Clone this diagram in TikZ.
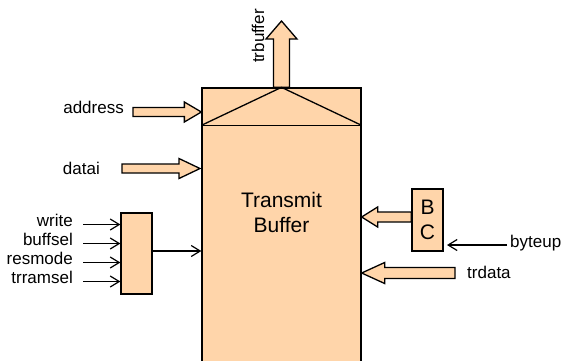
\documentclass[tikz,border=0pt]{standalone}
\usepackage{fontspec}
\setmainfont{Liberation Sans}
\usetikzlibrary{calc,arrows.meta}
\definecolor{peach}{RGB}{255,213,170}
\tikzset{
  unit/.style={draw, fill=peach, line width=1.3pt, inner sep=0pt},
  lbl/.style={font=\fontsize{17}{20}\selectfont, inner sep=0pt},
  big/.style={font=\fontsize{21}{25}\selectfont, align=center},
  wire/.style={-{Straight Barb[length=9pt,width=11pt]}, line width=1.2pt},
  % block arrow: shaft half width, head half width, head length
  fat/.style n args={3}{draw, fill=peach, line width=1.3pt, line join=miter,
    to path={($(\tikztostart)!#1!90:(\tikztotarget)$)
      -- ($(\tikztotarget)!#3!(\tikztostart)!#1!-90:(\tikztostart)$)
      -- ($(\tikztotarget)!#3!(\tikztostart)!#2!-90:(\tikztostart)$)
      -- (\tikztotarget)
      -- ($(\tikztotarget)!#3!(\tikztostart)!#2!90:(\tikztostart)$)
      -- ($(\tikztotarget)!#3!(\tikztostart)!#1!90:(\tikztostart)$)
      -- ($(\tikztostart)!#1!-90:(\tikztotarget)$) -- cycle}},
}
\begin{document}
\begin{tikzpicture}[x=1pt, y=-1pt]
  \useasboundingbox (0,0) rectangle (561,360);

  %% transmit buffer
  \node[unit, minimum width=159pt, minimum height=280pt] (buf) at (281.5,228) {};
  \node[big, inner sep=0pt] (bufname) at (281.5,212) {Transmit\\Buffer};

  \coordinate (trbuf) at (281.5,21);
  \draw[fat={8pt}{15.5pt}{18pt}] (buf.north) to (trbuf);
  \node[lbl, rotate=90, anchor=base west] (trbuflbl) at (264,63) {trbuffer};

  \coordinate (hl) at ($(buf.north west)+(0,38)$);
  \coordinate (hr) at ($(buf.north east)+(0,38)$);
  \draw[line width=1.3pt] (hl) -- (hr);
  \draw[line width=1.3pt] (hl) -- (buf.north) -- (hr);

  %% inputs on the left
  \node[lbl, anchor=base east] (addrlbl) at (124,113) {address};
  \coordinate (addrin) at (133,112);
  \coordinate (addrtip) at (buf.west |- addrin);
  \draw[fat={4.5pt}{10pt}{17pt}] (addrin) to (addrtip);

  \node[lbl, anchor=base east] (datalbl) at (100,174) {datai};
  \coordinate (datain) at (122,168.5);
  \coordinate (datatip) at (200,168.5);
  \draw[fat={4.5pt}{10pt}{21pt}] (datain) to (datatip);

  \node[unit, minimum width=31pt, minimum height=81pt] (ctl) at (136.5,253.5) {};
  \foreach \sig/\yy in {write/224.5, buffsel/243.5, resmode/262.5, trramsel/281.5} {
    \node[lbl, anchor=base east] (\sig) at (73,\yy+1.5) {\sig};
    \coordinate (\sig-in) at (83,\yy);
    \draw[wire] (\sig-in) -- (ctl.west |- \sig-in);
  }
  \coordinate (ctlout) at ($(ctl.east)+(0,-2.5)$);
  \coordinate (ctltip) at (buf.west |- ctlout);
  \draw[wire] (ctlout) -- (ctltip);

  %% inputs on the right
  \node[unit, big, minimum width=31pt, minimum height=62pt] (bc) at (427.5,220) {B\\C};
  \coordinate (bcout) at ($(bc.west)+(0,-3)$);
  \coordinate (bctip) at (buf.east |- bcout);
  \draw[fat={5pt}{10pt}{16pt}] (bcout) to (bctip);

  \node[lbl, anchor=base west] (byteup) at (510,247) {byteup};
  \coordinate (byteupin) at (507,245);
  \coordinate (byteuptip) at (447,245);
  \draw[wire] (byteupin) -- (byteuptip);

  \node[lbl, anchor=base west] (trdata) at (467,278) {trdata};
  \coordinate (trdatain) at (455,273);
  \coordinate (trdatatip) at (buf.east |- trdatain);
  \draw[fat={5.5pt}{10.5pt}{23pt}] (trdatain) to (trdatatip);
\end{tikzpicture}
\end{document}
